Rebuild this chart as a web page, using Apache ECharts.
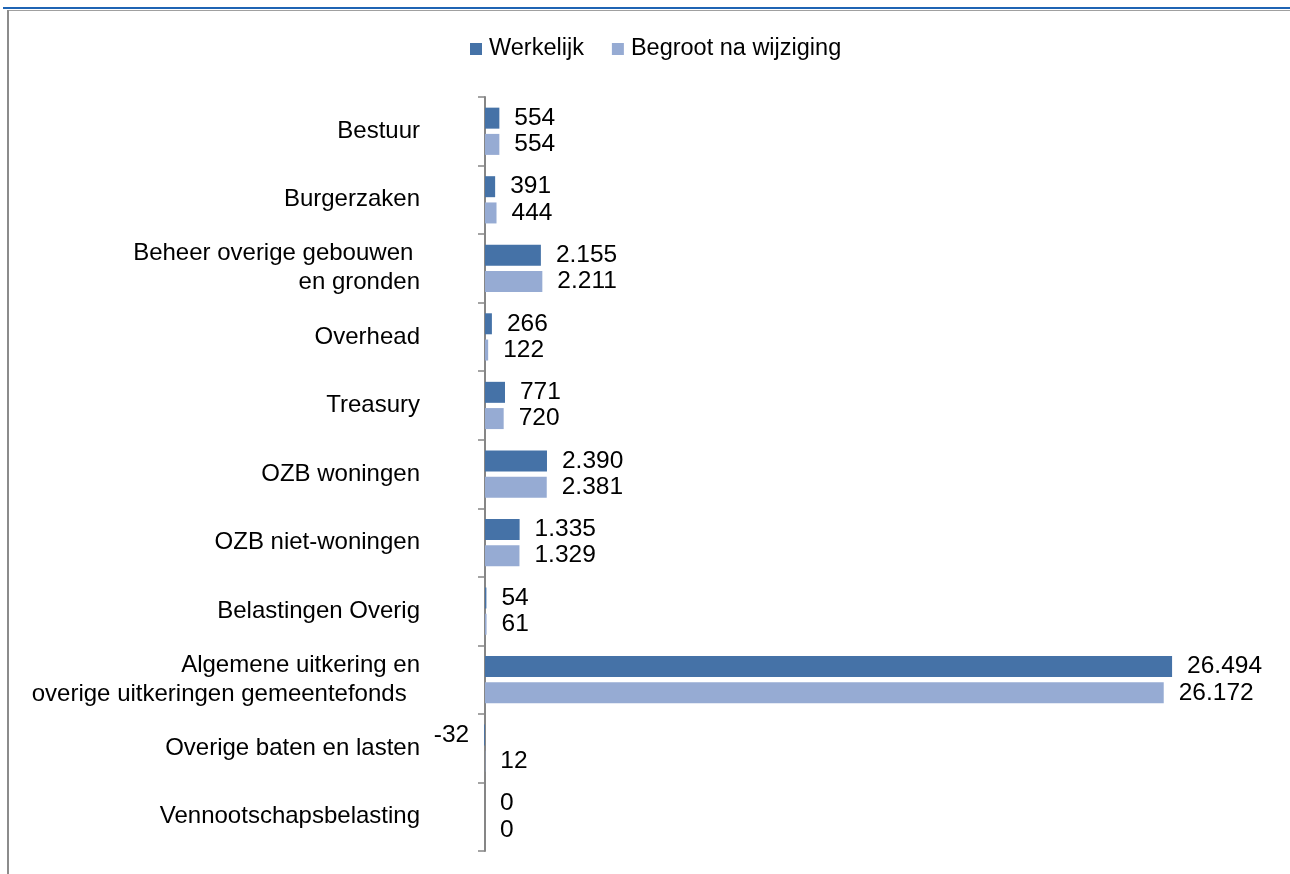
<!DOCTYPE html>
<html>
<head>
<meta charset="utf-8">
<script src="https://cdn.jsdelivr.net/npm/echarts@6/dist/echarts.min.js"></script>
<style>
  html, body { margin: 0; padding: 0; background: #fff; }
  #chart { width: 1290px; height: 874px; }
</style>
</head>
<body>
<div id="chart"></div>
<script>
const categories = [
  'Bestuur',
  'Burgerzaken',
  'Beheer overige gebouwen \nen gronden',
  'Overhead',
  'Treasury',
  'OZB woningen',
  'OZB niet-woningen',
  'Belastingen Overig',
  'Algemene uitkering en\noverige uitkeringen gemeentefonds  ',
  'Overige baten en lasten',
  'Vennootschapsbelasting'
];
const werkelijk = [554, 391, 2155, 266, 771, 2390, 1335, 54, 26494, -32, 0];
const begroot = [554, 444, 2211, 122, 720, 2381, 1329, 61, 26172, 12, 0];

const FONT = 'Liberation Sans, Arial, sans-serif';

// getal met punt als duizendtal-scheiding
function fmt(v) {
  const s = String(Math.abs(v)).replace(/\B(?=(\d{3})+(?!\d))/g, '.');
  return (v < 0 ? '-' : '') + s;
}

function toData(arr) {
  return arr.map(v => v < 0
    ? { value: v, label: { position: 'left' } }
    : v);
}

const chart = echarts.init(document.getElementById('chart'));

const labelStyle = {
  show: true,
  position: 'right',
  distance: 15,
  color: '#000',
  fontFamily: FONT,
  fontSize: 24.5,
  formatter: p => fmt(p.value)
};

chart.setOption({
  animation: false,
  legend: {
    top: 37,
    left: 470,
    padding: 0,
    itemWidth: 12,
    itemHeight: 12,
    itemGap: 28,
    icon: 'rect',
    textStyle: { color: '#000', fontFamily: FONT, fontSize: 23.5, padding: [0, 0, 0, 2] },
    data: ['Werkelijk', 'Begroot na wijziging']
  },
  grid: { left: 485, right: 27, top: 97, bottom: 23 },
  xAxis: {
    type: 'value',
    min: 0,
    max: 30000,
    show: false
  },
  yAxis: {
    type: 'category',
    inverse: true,
    data: categories,
    axisLine: { lineStyle: { color: '#868686', width: 2 } },
    axisTick: { show: true, length: 7, lineStyle: { color: '#868686', width: 1.5 } },
    axisLabel: {
      margin: 65,
      color: '#000',
      fontFamily: FONT,
      fontSize: 24,
      lineHeight: 29,
      align: 'right'
    }
  },
  series: [
    {
      name: 'Werkelijk',
      type: 'bar',
      data: toData(werkelijk),
      barWidth: 21,
      barGap: '25%',
      clip: false,
      itemStyle: { color: '#4572A7' },
      label: labelStyle
    },
    {
      name: 'Begroot na wijziging',
      type: 'bar',
      data: toData(begroot),
      barWidth: 21,
      barGap: '25%',
      clip: false,
      itemStyle: { color: '#96ABD3' },
      label: labelStyle
    }
  ],
  graphic: [
    { type: 'rect', shape: { x: 3, y: 7, width: 1287, height: 2 }, style: { fill: '#1F64B4' } },
    { type: 'rect', shape: { x: 8, y: 10, width: 1282, height: 1 }, style: { fill: '#A0A0A0' } },
    { type: 'rect', shape: { x: 7, y: 10, width: 2, height: 864 }, style: { fill: '#8C8C8C' } }
  ]
});
</script>
</body>
</html>
